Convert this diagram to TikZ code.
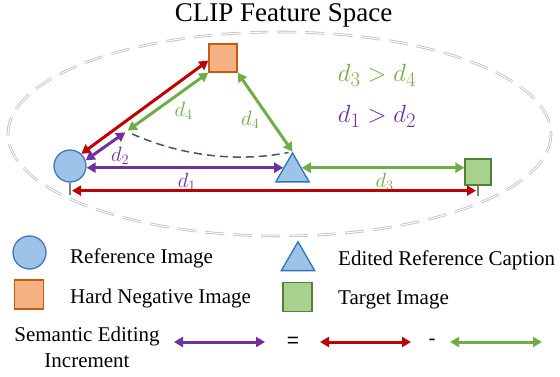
\documentclass[tikz,border=0pt]{standalone}
\usepackage{fontspec}
\setmainfont{Liberation Serif}
\setsansfont{Liberation Sans}
\usetikzlibrary{arrows.meta,shapes.geometric}

\begin{document}
\begin{tikzpicture}[x=1pt, y=-1pt, >={Triangle[length=9pt,width=10pt]}]
  \tikzset{
    refimg/.style={circle, draw={rgb,255:red,68;green,114;blue,196},
      fill={rgb,255:red,157;green,195;blue,230},
      minimum size=32pt, inner sep=0pt, line width=1.3pt},
    negimg/.style={rectangle, draw={rgb,255:red,197;green,90;blue,17},
      fill={rgb,255:red,244;green,177;blue,131},
      minimum size=28pt, inner sep=0pt, line width=1.3pt},
    capimg/.style={regular polygon, regular polygon sides=3,
      draw={rgb,255:red,46;green,117;blue,182},
      fill={rgb,255:red,157;green,195;blue,230},
      minimum size=38.5pt, inner sep=0pt, line width=1.3pt},
    tgtimg/.style={rectangle, draw={rgb,255:red,84;green,130;blue,53},
      fill={rgb,255:red,169;green,209;blue,142},
      minimum size=26pt, inner sep=0pt, line width=1.3pt},
    dpurple/.style={<->, line width=3pt, color={rgb,255:red,112;green,48;blue,160}},
    dred/.style={<->, line width=3pt, color={rgb,255:red,192;green,0;blue,0}},
    dgreen/.style={<->, line width=3pt, color={rgb,255:red,112;green,173;blue,71}},
    dlabel/.style={font=\fontsize{20.74}{24}\selectfont, inner sep=1.5pt},
    ineq/.style={font=\fontsize{24.88}{28}\selectfont, anchor=base, inner sep=0pt},
    legtext/.style={font=\fontsize{21}{26}\selectfont, anchor=base west, inner sep=0pt},
    stub/.style={draw={rgb,255:red,127;green,127;blue,127}, line width=1.3pt},
    space/.style={draw={rgb,255:red,191;green,191;blue,191}, line width=0.8pt,
      double=white, double distance=1pt, dash pattern=on 19pt off 9pt},
    arcline/.style={draw={rgb,255:red,68;green,84;blue,106}, line width=1.5pt,
      dash pattern=on 8pt off 5pt}
  }
  \useasboundingbox (0,0) rectangle (560,377);

  \node[anchor=base, font=\fontsize{27}{30}\selectfont] (title) at (283.5,22) {CLIP Feature Space};
  \draw[space] (279.5,134) ellipse [x radius=271.5, y radius=102];

  \node[refimg] (ref) at (70,166) {};
  \node[negimg] (neg) at (223,58) {};
  \node[capimg] (cap) at (292.5,172.25) {};
  \node[tgtimg] (tgt) at (478,172) {};
  \coordinate (foot) at (126.5,131.5);

  \draw[arcline, shorten <=6pt, shorten >=4pt] (foot) .. controls (180,155) and (235,163) .. (cap.corner 1);
  \draw[dred] (ref.47) -- (neg.190);
  \draw[dgreen, shorten >=1.5pt] (neg.south west) -- node[dlabel, pos=.45, below right] {$d_4$} (foot);
  \draw[dpurple, shorten >=1.5pt] (ref.20) -- node[dlabel, pos=.55, below right] {$d_2$} (foot);
  \draw[dgreen] (neg.south east) -- node[dlabel, pos=.45, below left] {$d_4$} (cap.corner 1);
  \draw[dpurple] (cap.154 -| ref.east) -- node[dlabel, pos=.51, below=2.5pt] {$d_1$} (cap.154);
  \draw[dgreen] (cap.26) -- node[dlabel, pos=.51, below=2.5pt] {$d_3$} (cap.26 -| tgt.west);
  \draw[stub] (ref.south) -- ++(0,12);
  \draw[stub] (tgt.south) -- ++(0,10);
  \draw[dred, shorten <=2pt, shorten >=2pt] ([yshift=-8pt]ref.south) -- ([yshift=-8pt]ref.south -| tgt.south);

  \node[ineq, text={rgb,255:red,112;green,173;blue,71}] (ineqa) at (377,82) {$d_3 > d_4$};
  \node[ineq, text={rgb,255:red,112;green,48;blue,160}] (ineqb) at (377,123) {$d_1 > d_2$};

  \node[refimg, minimum size=33pt] (legref) at (29.5,252.5) {};
  \node[legtext] (legreftxt) at (70,263) {Reference Image};
  \node[capimg] (legcap) at (298,261) {};
  \node[legtext] (legcaptxt) at (338,265) {Edited Reference Caption};
  \node[negimg, minimum size=29pt] (legneg) at (29,294.5) {};
  \node[legtext] (legnegtxt) at (70,303) {Hard Negative Image};
  \node[tgtimg, minimum size=29pt] (legtgt) at (297.5,297) {};
  \node[legtext] (legtgttxt) at (338,304) {Target Image};
  \node[legtext, anchor=north, align=center] (incr) at (87,326.5) {Semantic Editing\\Increment};

  \coordinate (pa) at (174,342);
  \coordinate (pb) at (265,342);
  \coordinate (ra) at (320,342);
  \coordinate (rb) at (411,342);
  \coordinate (ga) at (450,342);
  \coordinate (gb) at (542,342);
  \draw[dpurple] (pa) -- (pb);
  \node[font=\sffamily\fontsize{21}{24}\selectfont] (equals) at (293,342) {=};
  \draw[dred] (ra) -- (rb);
  \node[font=\sffamily\fontsize{21}{24}\selectfont] (minus) at (432,342) {-};
  \draw[dgreen] (ga) -- (gb);
\end{tikzpicture}
\end{document}
